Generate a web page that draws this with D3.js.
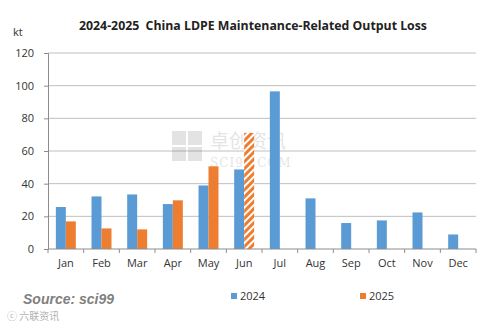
<!DOCTYPE html>
<html>
<head>
<meta charset="utf-8">
<script src="https://cdn.jsdelivr.net/npm/d3@7"></script>
<style>
  body { margin: 0; background: #fff; }
  svg { font-family: "Open Sans", "Noto Sans", sans-serif; }
</style>
</head>
<body>
<div id="chart"></div>
<script>
// data
const months = ["Jan", "Feb", "Mar", "Apr", "May", "Jun", "Jul", "Aug", "Sep", "Oct", "Nov", "Dec"];
const loss2024 = [25.7, 32.2, 33.4, 27.5, 38.9, 48.7, 96.5, 31, 15.9, 17.5, 22.4, 8.9];
const loss2025 = [16.9, 12.6, 12, 29.8, 50.6, 71];
const hatchedMonths = ["Jun"]; // estimated / incomplete month
const yTicks = [0, 20, 40, 60, 80, 100, 120];

const W = 500, H = 326;
const margin = {top: 53, right: 24, bottom: 77, left: 48};
const blue = "#5B9BD5", orange = "#ED7D31";

const svg = d3.select("#chart").append("svg")
    .attr("width", W)
    .attr("height", H);

const defs = svg.append("defs");
const pat = defs.append("pattern")
    .attr("id", "hatch")
    .attr("patternUnits", "userSpaceOnUse")
    .attr("width", 5)
    .attr("height", 5)
    .attr("patternTransform", "rotate(45)");
pat.append("rect").attr("width", 5).attr("height", 5).attr("fill", orange);
pat.append("rect").attr("x", 3).attr("width", 2).attr("height", 5).attr("fill", "#fff");

const x = d3.scaleBand()
    .domain(months)
    .range([margin.left, W - margin.right])
    .paddingInner(0.44)
    .paddingOuter(0.22);

const sub = d3.scaleBand()
    .domain(["2024", "2025"])
    .range([0, x.bandwidth()]);

const y = d3.scaleLinear()
    .domain([0, 120])
    .range([H - margin.bottom, margin.top]);

// gridlines
svg.append("g")
    .selectAll("line")
    .data(yTicks.slice(1))
    .join("line")
      .attr("x1", margin.left)
      .attr("x2", W - margin.right)
      .attr("y1", d => y(d))
      .attr("y2", d => y(d))
      .attr("stroke", "#bfbfbf")
      .attr("stroke-width", 1);

// watermark
const wm = svg.append("g").attr("opacity", 0.13);
[[172, 131], [188, 131], [172, 147], [188, 147]].forEach(([rx, ry]) => {
  wm.append("rect").attr("x", rx).attr("y", ry).attr("width", 14).attr("height", 14).attr("fill", "#333");
});
wm.append("text").attr("x", 210).attr("y", 148)
    .style("font-family", "'Noto Sans CJK SC'").attr("font-size", 19).attr("fill", "#333")
    .text("卓创资讯");
wm.append("text").attr("x", 210).attr("y", 167)
    .style("font-family", "'DejaVu Serif', serif").attr("font-size", 12).attr("fill", "#333")
    .attr("letter-spacing", 1)
    .text("SCI99.COM");

// bars
const groups = svg.append("g")
  .selectAll("g")
  .data(months)
  .join("g")
    .attr("transform", d => `translate(${x(d)},0)`);

groups.append("rect")
    .attr("x", sub("2024"))
    .attr("width", sub.bandwidth())
    .attr("y", (d, i) => y(loss2024[i]))
    .attr("height", (d, i) => y(0) - y(loss2024[i]))
    .attr("fill", blue);

groups.filter((d, i) => i < loss2025.length)
  .append("rect")
    .attr("x", sub("2025"))
    .attr("width", sub.bandwidth())
    .attr("y", (d, i) => y(loss2025[i]))
    .attr("height", (d, i) => y(0) - y(loss2025[i]))
    .attr("fill", d => hatchedMonths.includes(d) ? "url(#hatch)" : orange);

// y axis
const yAxis = svg.append("g")
    .attr("transform", `translate(${margin.left},0)`)
    .call(d3.axisLeft(y).tickValues(yTicks).tickSize(4).tickPadding(10));
yAxis.attr("font-family", null);
yAxis.select(".domain").attr("stroke", "#8c8c8c");
yAxis.selectAll(".tick line").attr("stroke", "#8c8c8c");
yAxis.selectAll(".tick text").attr("font-size", 11).attr("fill", "#333");

// x axis with ticks at category boundaries
const xAxis = svg.append("g")
    .attr("transform", `translate(0,${y(0)})`);
xAxis.append("line")
    .attr("x1", margin.left).attr("x2", W - margin.right)
    .attr("stroke", "#8c8c8c");
const step = x.step();
xAxis.selectAll("line.tk")
  .data(d3.range(months.length + 1))
  .join("line")
    .attr("class", "tk")
    .attr("x1", i => margin.left + i * step)
    .attr("x2", i => margin.left + i * step)
    .attr("y1", 0).attr("y2", 4)
    .attr("stroke", "#8c8c8c");
xAxis.selectAll("text")
  .data(months)
  .join("text")
    .attr("x", d => x(d) + x.bandwidth() / 2)
    .attr("y", 18)
    .attr("text-anchor", "middle")
    .attr("font-size", 11)
    .attr("fill", "#333")
    .text(d => d);

// title & unit
svg.append("text")
    .attr("x", 253).attr("y", 30)
    .attr("text-anchor", "middle")
    .attr("font-size", 12.3)
    .attr("font-weight", "bold")
    .attr("fill", "#222")
    .style("white-space", "pre")
    .text("2024-2025  China LDPE Maintenance-Related Output Loss");
svg.append("text")
    .attr("x", 13).attr("y", 36)
    .attr("font-size", 11)
    .attr("fill", "#333")
    .text("kt");

// legend
const legend = svg.append("g");
[["2024", blue, 231], ["2025", orange, 360]].forEach(([label, c, lx]) => {
  legend.append("rect").attr("x", lx).attr("y", 293).attr("width", 6).attr("height", 6).attr("fill", c);
  legend.append("text").attr("x", lx + 9).attr("y", 300)
      .attr("font-size", 11).attr("fill", "#333").text(label);
});

// source
svg.append("text")
    .attr("x", 23).attr("y", 304)
    .style("font-family", "'Liberation Sans', Arial, sans-serif")
    .attr("font-size", 14)
    .attr("font-weight", "bold")
    .attr("font-style", "italic")
    .attr("fill", "#7f7f7f")
    .text("Source: sci99");

svg.append("text")
    .attr("x", 7).attr("y", 320)
    .style("font-family", "'Noto Sans CJK SC'")
    .attr("font-size", 10)
    .attr("fill", "#b0b0b0")
    .text("ⓒ 六联资讯");
</script>
</body>
</html>
